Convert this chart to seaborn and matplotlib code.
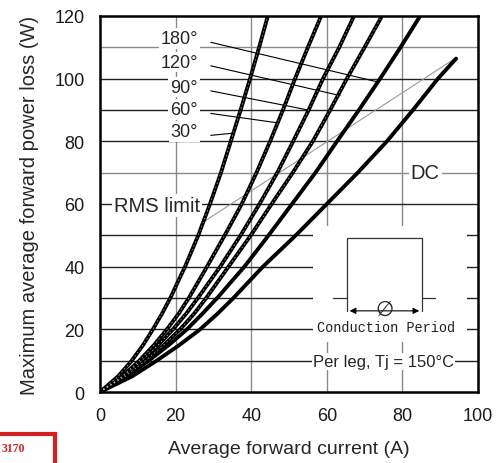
import numpy as np
import pandas as pd
import seaborn as sns
import matplotlib.pyplot as plt
from matplotlib.patches import Rectangle

# power levels (W) at which the curves were read
power = [0, 5, 10, 15, 20, 25, 30, 40, 50, 60, 70, 80, 90, 100, 110, 120]
cur_30 = [0, 4.8, 8.4, 11.4, 14.0, 16.4, 18.6, 22.5, 26.0, 29.1, 32.0, 34.6, 37.2, 39.7, 42.1, 44.4]
cur_60 = [0, 5.9, 10.4, 14.3, 17.7, 20.8, 23.5, 28.3, 33.0, 37.5, 41.4, 45.0, 48.4, 51.6, 55.0, 58.5]
cur_90 = [0, 6.1, 11.1, 15.4, 19.3, 22.8, 25.9, 31.8, 37.2, 42.2, 46.9, 51.1, 55.2, 59.0, 63.3, 67.2]
cur_120 = [0, 6.7, 12.0, 16.9, 21.2, 24.9, 28.1, 34.0, 39.9, 45.4, 51.0, 56.3, 60.9, 65.3, 70.0, 74.6]
cur_180 = [0, 7.0, 12.9, 18.2, 23.0, 27.1, 31.0, 38.2, 44.6, 50.8, 57.0, 62.7, 68.5, 74.1, 79.5, 84.7]
power_dc = [0, 5, 10, 15, 20, 25, 30, 40, 50, 60, 70, 80, 90, 100, 106.4]
cur_dc = [0, 8.5, 15.0, 21.0, 26.5, 31.1, 35.3, 43.1, 51.8, 60.0, 68.2, 75.9, 82.8, 89.4, 94.2]

rms_x = [27.8, 93.9]
rms_y = [54.6, 106.4]

angle_labels = ["180°", "120°", "90°", "60°", "30°"]
label_y = [112.8, 105.3, 97.3, 90.1, 83.1]
leader_end_x = [73.3, 63.5, 55.5, 47.0, 35.2]
leader_end_y = [99.0, 94.6, 89.9, 85.9, 82.6]

xticks = [0, 20, 40, 60, 80, 100]
yticks = [0, 20, 40, 60, 80, 100, 120]

frames = []
for name, xs in [("30°", cur_30), ("60°", cur_60), ("90°", cur_90), ("120°", cur_120), ("180°", cur_180)]:
    frames.append(pd.DataFrame({"curve": name, "current": xs, "power": power}))
frames.append(pd.DataFrame({"curve": "DC", "current": cur_dc, "power": power_dc}))
df = pd.concat(frames, ignore_index=True)

sns.set_style("white")
plt.rcParams['font.family'] = ['Liberation Sans', 'DejaVu Sans']

fig = plt.figure(figsize=(4.96, 4.64), dpi=100)
ax = fig.add_axes([0.2016, 0.153, 0.7621, 0.8104])

# grid
for gx in [20, 40, 60, 80]:
    ax.axvline(gx, color='#8a8a8a', lw=1.0, zorder=0.5)
for gy in range(10, 120, 10):
    c = '#8a8a8a' if gy in (70, 110) else '#222222'
    ax.axhline(gy, color=c, lw=1.0, zorder=0.5)

# curves
for name in ["30°", "60°", "90°", "120°", "180°", "DC"]:
    sub = df[df.curve == name]
    sns.lineplot(data=sub, x="current", y="power", sort=False, estimator=None,
                 color='black', lw=2.8, ax=ax, zorder=3)
    if name in ["30°", "60°", "90°", "120°"]:
        ax.plot(sub.current, sub.power, color='#c8c8c8', lw=0.5, dashes=(2, 4), zorder=3.1)

ax.plot(rms_x, rms_y, color='#9a9a9a', lw=0.8, zorder=2)

# angle labels and leaders
bb = dict(boxstyle='square,pad=0.1', fc='white', ec='none')
for lab, ly, ex, ey in zip(angle_labels, label_y, leader_end_x, leader_end_y):
    ax.text(25.9, ly, lab, ha='right', va='center', fontsize=13, bbox=bb, zorder=2.5)
    ax.plot([29.3, ex], [ly - 1.2, ey], color='black', lw=0.8, zorder=2.6)

ax.text(15.0, 59.5, "RMS limit", ha='center', va='center', fontsize=14.5, bbox=bb, zorder=2.5)
ax.text(86.0, 70.2, "DC", ha='center', va='center', fontsize=14.5, bbox=bb, zorder=2.5)
ax.text(74.9, 9.8, "Per leg, Tj = 150°C", ha='center', va='center', fontsize=12,
        bbox=dict(boxstyle='square,pad=0.05', fc='white', ec='none'), zorder=2.5)

# conduction period inset
ax.add_patch(Rectangle((56.3, 16), 40.8, 37, fc='white', ec='none', zorder=1))
ax.plot([61.6, 65.3, 65.3, 85.2, 85.2, 88.6], [30, 30, 49.2, 49.2, 30, 30], color='#333333', lw=0.9, zorder=2)
ax.plot([65.3, 65.3], [25.9, 30], color='#333333', lw=0.9, zorder=2)
ax.plot([85.2, 85.2], [25.9, 30], color='#333333', lw=0.9, zorder=2)
ax.annotate('', xy=(65.3, 25.9), xytext=(85.2, 25.9),
            arrowprops=dict(arrowstyle='<|-|>', color='black', lw=0.8, mutation_scale=9), zorder=2)
ax.text(75.3, 26.6, "∅", ha='center', va='center', fontsize=15, family=['DejaVu Sans'], zorder=2.5)
ax.text(75.8, 20.8, "Conduction Period", ha='center', va='center', fontsize=9.8,
        family=['Liberation Mono', 'DejaVu Sans Mono'], color='#222222', bbox=bb, zorder=2.5)

ax.set_xlim(0, 100)
ax.set_ylim(0, 120)
ax.set_xticks(xticks)
ax.set_yticks(yticks)
ax.tick_params(length=0, labelsize=13, pad=11, colors='#1a1a1a')
ax.set_xlabel("Average forward current (A)", fontsize=14, labelpad=11)
ax.set_ylabel("Maximum average forward power loss (W)", fontsize=14.5, labelpad=11)
for s in ax.spines.values():
    s.set_color('black')
    s.set_linewidth(1.8)
    s.set_zorder(5)

# red tag in the corner
fig.add_artist(Rectangle((-0.02, -0.02), 0.131, 0.0825, transform=fig.transFigure,
                         fill=False, ec='#d42020', lw=3))
fig.text(0.004, 0.032, "3170", color='#d42020', fontsize=8.5, fontweight='bold',
         family=['Liberation Serif', 'DejaVu Serif'], va='center')

fig.savefig("out.png", dpi=100)
